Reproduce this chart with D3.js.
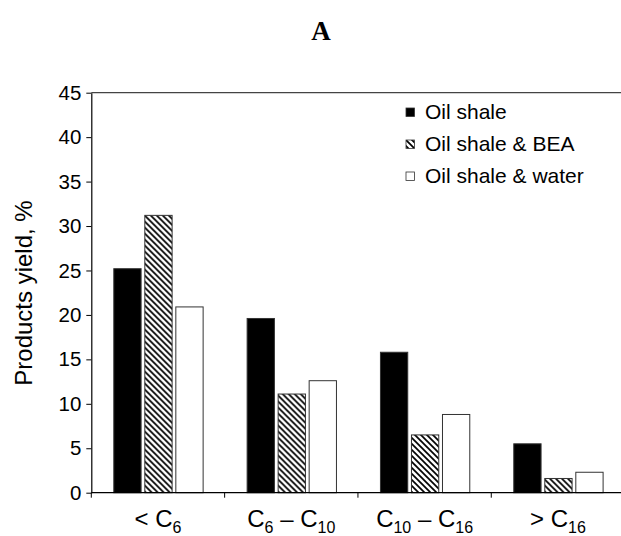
<!DOCTYPE html>
<html>
<head>
<meta charset="utf-8">
<script src="https://cdn.jsdelivr.net/npm/d3@7"></script>
<style>
  html, body { margin: 0; padding: 0; background: #fff; }
  svg { display: block; }
  text { font-family: Arial, "Liberation Sans", Helvetica, sans-serif; fill: #000; }
</style>
</head>
<body>
<svg id="chart" width="621" height="536"></svg>
<script>
const categories = ["< C6", "C6 – C10", "C10 – C16", "> C16"];
const categoryLabelParts = [
  [["< C", false], ["6", true]],
  [["C", false], ["6", true], [" – C", false], ["10", true]],
  [["C", false], ["10", true], [" – C", false], ["16", true]],
  [["> C", false], ["16", true]]
];
const seriesNames = ["Oil shale", "Oil shale & BEA", "Oil shale & water"];
const oilShale = [25.2, 19.6, 15.8, 5.5];
const oilShaleBEA = [31.2, 11.1, 6.5, 1.6];
const oilShaleWater = [20.9, 12.6, 8.8, 2.3];
const yTicks = [0, 5, 10, 15, 20, 25, 30, 35, 40, 45];
const titleText = "A";
const yAxisTitle = "Products yield, %";

const seriesValues = [oilShale, oilShaleBEA, oilShaleWater];
const fills = ["#000", "url(#hatch)", "#fff"];

const svg = d3.select("#chart");
const mLeft = 91.3, mTop = 92.7, mBottom = 492.7, mRight = 624.6;

const defs = svg.append("defs");
const pat = defs.append("pattern").attr("id", "hatch")
  .attr("patternUnits", "userSpaceOnUse").attr("width", 6).attr("height", 6);
pat.append("rect").attr("width", 6).attr("height", 6).attr("fill", "#fff");
pat.append("path").attr("d", "M0,0 L6,6 M-1,5 L1,7 M5,-1 L7,1")
  .attr("stroke", "#000").attr("stroke-width", 1.7);

const x0 = d3.scaleBand().domain(categories).range([mLeft, mRight]).paddingInner(0).paddingOuter(0);
const x1 = d3.scaleBand().domain(seriesNames).range([22.5, x0.bandwidth() - 21.5]).paddingInner(0.12).paddingOuter(0);
const y = d3.scaleLinear().domain([0, 45]).range([mBottom, mTop]);

// title
svg.append("text").attr("x", 321).attr("y", 40).attr("text-anchor", "middle")
  .style("font-family", "'Times New Roman', 'Liberation Serif', serif")
  .style("font-weight", "bold").style("font-size", "27px").text(titleText);

// top frame line
svg.append("line").attr("x1", mLeft).attr("x2", 621).attr("y1", y(45)).attr("y2", y(45))
  .attr("stroke", "#444").attr("stroke-width", 1.2);

// bars
const groups = svg.append("g").selectAll("g").data(categories).join("g")
  .attr("transform", d => `translate(${x0(d)},0)`);
groups.selectAll("rect").data((d, i) => seriesNames.map((s, j) => ({ s, j, v: seriesValues[j][i] })))
  .join("rect")
  .attr("x", d => x1(d.s))
  .attr("width", x1.bandwidth())
  .attr("y", d => y(d.v))
  .attr("height", d => y(0) - y(d.v))
  .attr("fill", d => fills[d.j])
  .attr("stroke", "#333").attr("stroke-width", 1);

// y axis
const yAxis = d3.axisLeft(y).tickValues(yTicks).tickSize(5).tickPadding(5).tickSizeOuter(0);
const gy = svg.append("g").attr("transform", `translate(${mLeft},0)`).call(yAxis);
gy.selectAll("text").style("font-size", "20.5px").style("font-family", "Arial, 'Liberation Sans', sans-serif");
gy.select(".domain").attr("stroke", "#000").attr("stroke-width", 1.2);
gy.selectAll(".tick line").attr("stroke", "#000");

// x axis: ticks at category boundaries
const gx = svg.append("g").attr("transform", `translate(0,${mBottom})`);
gx.append("line").attr("x1", mLeft).attr("x2", 621).attr("y1", 0).attr("y2", 0)
  .attr("stroke", "#000").attr("stroke-width", 1.2);
gx.selectAll("line.tk").data(categories).join("line").attr("class", "tk")
  .attr("x1", d => x0(d)).attr("x2", d => x0(d)).attr("y1", 0).attr("y2", 5)
  .attr("stroke", "#000");

const xl = svg.append("g").selectAll("text").data(categories).join("text")
  .attr("x", d => x0(d) + x0.bandwidth() / 2)
  .attr("y", 527)
  .attr("text-anchor", "middle")
  .style("font-size", "24px");
xl.each(function (d, i) {
  const t = d3.select(this);
  let shifted = false;
  categoryLabelParts[i].forEach(([txt, sub]) => {
    const ts = t.append("tspan").text(txt);
    if (sub) { ts.style("font-size", "16px"); if (!shifted) { ts.attr("dy", 6); shifted = true; } }
    else if (shifted) { ts.attr("dy", -6); shifted = false; }
  });
});

// y axis title
svg.append("text").attr("transform", `translate(32,293) rotate(-90)`)
  .attr("text-anchor", "middle").style("font-size", "24px").text(yAxisTitle);

// legend
const legend = svg.append("g").selectAll("g").data(seriesNames).join("g")
  .attr("transform", (d, i) => `translate(406,${108 + i * 32})`);
legend.append("rect").attr("width", 8.5).attr("height", 8.5)
  .attr("fill", (d, i) => fills[i]).attr("stroke", "#333").attr("stroke-width", 0.8);
legend.append("text").attr("x", 19).attr("y", 11).style("font-size", "21px").text(d => d);
</script>
</body>
</html>
